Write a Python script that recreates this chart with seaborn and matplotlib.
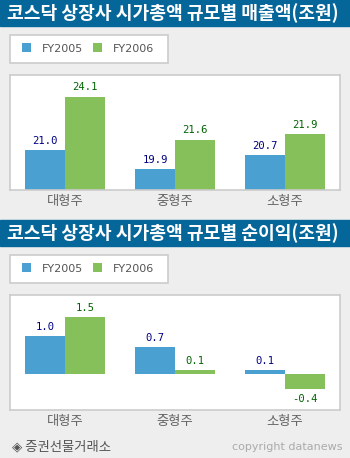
import matplotlib
matplotlib.use("Agg")
import matplotlib.pyplot as plt
from matplotlib.patches import Rectangle
import seaborn as sns
import pandas as pd

# ---- data ----
categories = ["대형주", "중형주", "소형주"]
years = ["FY2005", "FY2006"]
sales_2005 = [21.0, 19.9, 20.7]
sales_2006 = [24.1, 21.6, 21.9]
profit_2005 = [1.0, 0.7, 0.1]
profit_2006 = [1.5, 0.1, -0.4]
title_sales = "코스닥 상장사 시가총액 규모별 매출액(조원)"
title_profit = "코스닥 상장사 시가총액 규모별 순이익(조원)"
source_text = "◈ 증권선물거래소"
copyright_text = "copyright datanews"

BLUE = "#4aa0d0"
GREEN = "#86c05a"
BAR_BLUE_LABEL = "#000080"
BAR_GREEN_LABEL = "#006400"
TITLE_BG = "#05669a"
BG = "#eeeeee"

sns.set_style("white")
plt.rcParams["font.family"] = ["Noto Sans CJK KR", "DejaVu Sans"]

W, H = 350, 458
fig = plt.figure(figsize=(W / 100, H / 100), dpi=100, facecolor=BG)


def fx(x):
    return x / W


def fy(y):
    return 1 - y / H


def make_df(v1, v2):
    rows = []
    for c, a, b in zip(categories, v1, v2):
        rows.append({"cat": c, "year": years[0], "value": a})
        rows.append({"cat": c, "year": years[1], "value": b})
    return pd.DataFrame(rows)


def title_bar(y0, y1, text):
    fig.patches.append(Rectangle((0, fy(y1)), 1, (y1 - y0) / H,
                                 transform=fig.transFigure, color=TITLE_BG, zorder=-1))
    fig.text(fx(7), fy((y0 + y1) / 2 + 0.5), text, color="white", fontsize=13.1,
             fontweight="bold", va="center", ha="left")


def legend_box(y0, y1):
    fig.patches.append(Rectangle((fx(10), fy(y1)), 158 / W, (y1 - y0) / H,
                                 transform=fig.transFigure, facecolor="white",
                                 edgecolor="#cccccc", linewidth=1.2, zorder=-1))


def panel(top, bottom, v1, v2, ylim, leg_y):
    ax = fig.add_axes([fx(10), fy(bottom), 330 / W, (bottom - top) / H])
    df = make_df(v1, v2)
    sns.barplot(data=df, x="cat", y="value", hue="year", palette=[BLUE, GREEN],
                width=0.72, saturation=1, ax=ax, errorbar=None, legend=True)
    ax.set_ylim(*ylim)
    ax.set_xlim(-0.5, 2.5)
    for cont, col in zip(ax.containers, [BAR_BLUE_LABEL, BAR_GREEN_LABEL]):
        for p in cont:
            p.set_edgecolor("none")
        ax.bar_label(cont, fmt="%.1f", padding=3, color=col,
                     fontfamily="DejaVu Sans Mono", fontsize=7.6)
    ax.set_xlabel("")
    ax.set_ylabel("")
    ax.set_yticks([])
    ax.set_xticks(range(len(categories)))
    ax.set_xticklabels(categories)
    ax.tick_params(axis="x", which="major", length=0, pad=3, labelsize=9.6,
                   labelcolor="#666666")
    ax.set_xticks([0.5, 1.5], minor=True)
    ax.tick_params(axis="x", which="minor", direction="in", length=4,
                   color="#999999", width=1)
    for s in ax.spines.values():
        s.set_color("#cccccc")
        s.set_linewidth(1.2)
        s.set_visible(True)
    ax.set_facecolor("white")
    sns.move_legend(ax, loc="center left", bbox_to_anchor=(fx(16), fy(leg_y)),
                    bbox_transform=fig.transFigure, ncol=2, frameon=False,
                    title=None, handlelength=0.85, handleheight=0.85,
                    handletextpad=1.0, columnspacing=0.85, borderpad=0,
                    labelcolor="#555555", prop={"family": "DejaVu Sans", "size": 8})
    for h in ax.get_legend().legend_handles:
        h.set_edgecolor("none")
    return ax


title_bar(0, 26, title_sales)
legend_box(35, 63)
panel(75, 190, sales_2005, sales_2006, (18.67, 25.36), 48.5)

title_bar(220, 246, title_profit)
legend_box(255, 283)
panel(295, 410, profit_2005, profit_2006, (-0.94, 2.07), 268.5)

fig.text(fx(12), fy(446), source_text, color="#555555", fontsize=9.6, va="center",
         ha="left")
fig.text(fx(342), fy(447), copyright_text, color="#aaaaaa", fontsize=8,
         va="center", ha="right", family="DejaVu Sans")

fig.savefig("out.png", dpi=100, facecolor=BG)
